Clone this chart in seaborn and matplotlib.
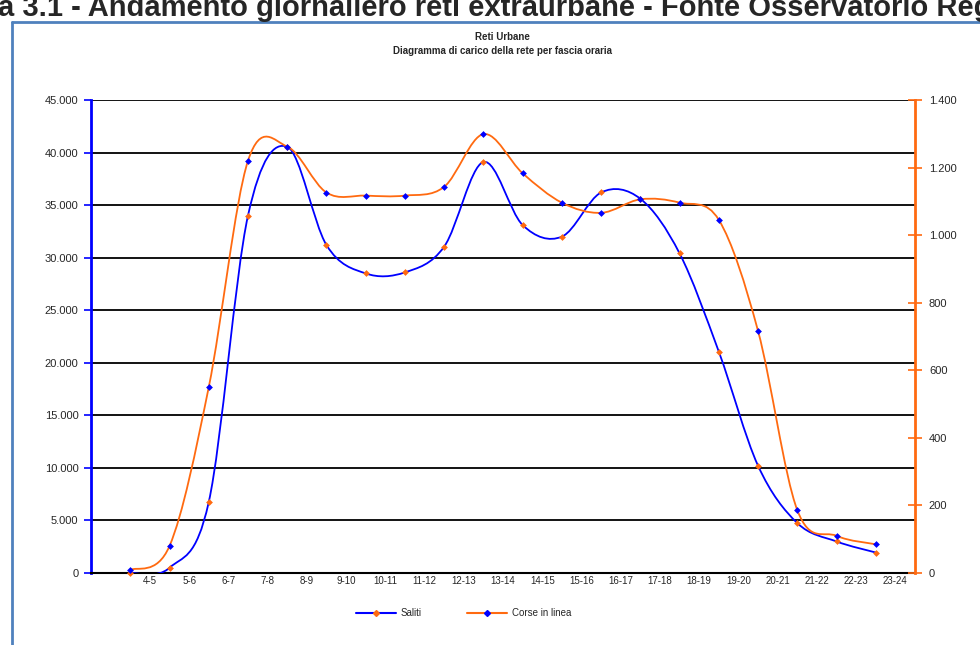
import numpy as np
import matplotlib
matplotlib.use("Agg")
import matplotlib.pyplot as plt
import seaborn as sns
import pandas as pd
from matplotlib.path import Path
from matplotlib.patches import PathPatch
from matplotlib.lines import Line2D
from matplotlib.ticker import FuncFormatter, FixedLocator

# Fasce orarie
fasce = ["4-5", "5-6", "6-7", "7-8", "8-9", "9-10", "10-11", "11-12", "12-13",
         "13-14", "14-15", "15-16", "16-17", "17-18", "18-19", "19-20", "20-21",
         "21-22", "22-23", "23-24"]

# Saliti (asse sinistro)
saliti = [0, 500, 6750, 34000, 40550, 31200, 28500, 28600, 31050, 39100,
          33100, 32000, 36200, 35600, 30400, 21050, 10200, 4750, 3000, 1950]

# Corse in linea (asse destro)
corse = [9, 80, 550, 1220, 1262, 1126, 1117, 1117, 1143, 1299,
         1183, 1096, 1066, 1106, 1096, 1045, 716, 186, 110, 85]

BLUE = "#0000ff"
ORANGE = "#ff6a10"

df = pd.DataFrame({"pos": np.arange(1, len(fasce) + 1), "fascia": fasce,
                   "saliti": saliti, "corse": corse})

sns.set_style("white")
plt.rcParams["font.family"] = ["Liberation Sans", "DejaVu Sans"]


def smooth_path(x, y):
    # Excel-style smoothed line (Catmull-Rom as cubic Bezier)
    x = np.asarray(x, float)
    y = np.asarray(y, float)
    px = np.r_[x[0], x, x[-1]]
    py = np.r_[y[0], y, y[-1]]
    verts = [(x[0], y[0])]
    codes = [Path.MOVETO]
    for i in range(1, len(px) - 2):
        c1 = (px[i] + (px[i + 1] - px[i - 1]) / 6, py[i] + (py[i + 1] - py[i - 1]) / 6)
        c2 = (px[i + 1] - (px[i + 2] - px[i]) / 6, py[i + 1] - (py[i + 2] - py[i]) / 6)
        verts += [c1, c2, (px[i + 1], py[i + 1])]
        codes += [Path.CURVE4] * 3
    return Path(verts, codes)


fig = plt.figure(figsize=(9.8, 6.45), dpi=100)
ax = fig.add_axes([0.0929, 0.1116, 0.8408, 0.7334])
ax2 = ax.twinx()

# curves
ax.add_patch(PathPatch(smooth_path(df["pos"], df["saliti"]), fill=False,
                       edgecolor=BLUE, lw=1.3, zorder=3))
ax2.add_patch(PathPatch(smooth_path(df["pos"], df["corse"]), fill=False,
                        edgecolor=ORANGE, lw=1.3, zorder=3))
sns.scatterplot(data=df, x="pos", y="saliti", ax=ax, marker="D", s=12,
                color=ORANGE, edgecolor=ORANGE, linewidth=0, zorder=4, clip_on=False)
sns.scatterplot(data=df, x="pos", y="corse", ax=ax2, marker="D", s=12,
                color=BLUE, edgecolor=BLUE, linewidth=0, zorder=4, clip_on=False)

ax.set_xlim(0, len(fasce) + 1)
ax.set_ylim(0, 45000)
ax2.set_ylim(0, 1400)
ax.set_xlabel("")
ax.set_ylabel("")
ax2.set_ylabel("")

fmt = FuncFormatter(lambda v, p: f"{int(v):,}".replace(",", "."))
ax.yaxis.set_major_locator(FixedLocator(np.arange(0, 45001, 5000)))
ax.yaxis.set_major_formatter(fmt)
ax2.yaxis.set_major_locator(FixedLocator(np.arange(0, 1401, 200)))
ax2.yaxis.set_major_formatter(fmt)

ax.set_xticks(np.arange(0, len(fasce) + 2))
ax.set_xticklabels([])
ax.set_xticks(df["pos"] + 0.5, minor=True)
ax.set_xticklabels(fasce, minor=True, fontsize=7)
ax.tick_params(axis="x", which="major", direction="inout", length=14, width=1.2, color="black")
ax.tick_params(axis="x", which="minor", length=0, pad=2)

ax.grid(axis="y", color="black", lw=1.3)
ax.grid(axis="x", visible=False)
ax.set_axisbelow(True)
ax.tick_params(axis="y", direction="out", length=5, width=1.2, color=BLUE,
               labelsize=8, pad=4)
ax2.tick_params(axis="y", direction="inout", length=10, width=1.2, color=ORANGE,
                labelsize=8, pad=5)

for a in (ax, ax2):
    for s in a.spines.values():
        s.set_visible(False)
ax.spines["left"].set_visible(True)
ax.spines["left"].set_color(BLUE)
ax.spines["left"].set_linewidth(2)
ax.spines["bottom"].set_visible(True)
ax.spines["bottom"].set_color("black")
ax.spines["bottom"].set_linewidth(1.5)
ax2.spines["right"].set_visible(True)
ax2.spines["right"].set_color(ORANGE)
ax2.spines["right"].set_linewidth(2)

# titoli
fig.text(0.513, 1 - 37 / 645, "Reti Urbane", ha="center", va="center",
         fontsize=7, fontweight="bold")
fig.text(0.513, 1 - 51 / 645, "Diagramma di carico della rete per fascia oraria",
         ha="center", va="center", fontsize=7, fontweight="bold")
fig.text(-0.002, 1 - 16 / 645,
         "a 3.1 - Andamento giornaliero reti extraurbane - Fonte Osservatorio Regionale",
         ha="left", va="baseline", fontsize=21, fontweight="bold")

# cornice blu
fig.add_artist(Line2D([12 / 980, 12 / 980], [0, 1 - 22 / 645], color="#4f81bd", lw=2))
fig.add_artist(Line2D([12 / 980, 1], [1 - 22 / 645, 1 - 22 / 645], color="#4f81bd", lw=2))

# legenda
handles = [Line2D([], [], color=BLUE, lw=1.5, marker="D", ms=3,
                  markerfacecolor=ORANGE, markeredgecolor=ORANGE),
           Line2D([], [], color=ORANGE, lw=1.5, marker="D", ms=3,
                  markerfacecolor=BLUE, markeredgecolor=BLUE)]
fig.legend(handles, ["Saliti", "Corse in linea"], loc="center",
           bbox_to_anchor=(0.473, 1 - 613 / 645), ncol=2, frameon=False,
           fontsize=7, handlelength=4.1, columnspacing=4.7, handletextpad=0.5)

fig.savefig("out.png", dpi=100)
